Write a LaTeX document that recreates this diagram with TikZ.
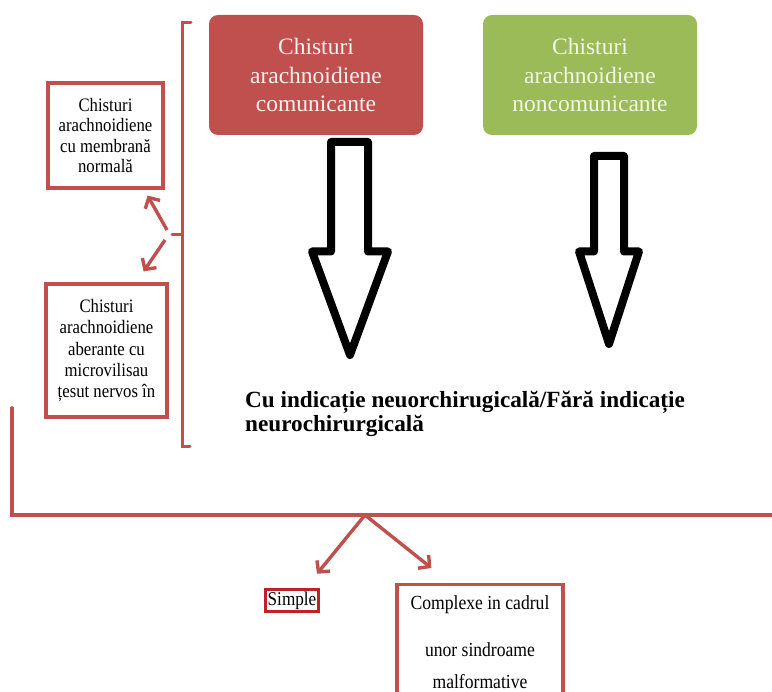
\documentclass[tikz,border=0pt]{standalone}
\usepackage{fontspec}
\setmainfont{Liberation Serif}
\newfontfamily\narrowserif[FakeStretch=0.88]{Liberation Serif}
\usetikzlibrary{arrows.meta}
\definecolor{cystred}{HTML}{C0504D}
\definecolor{cystgreen}{HTML}{9BBB59}
\definecolor{framered}{HTML}{C0504D}
\definecolor{simplered}{HTML}{C0202C}
\definecolor{palepink}{HTML}{FDF0EF}
\definecolor{palecream}{HTML}{F3F9E4}

\begin{document}
\begin{tikzpicture}[x=1pt,y=-1pt,
  category/.style={rounded corners=9pt, minimum width=214pt, minimum height=120pt,
    inner sep=0pt, align=center, font=\fontsize{23.5}{28.5}\selectfont},
  subtype/.style={draw=framered, line width=3.2pt, fill=white, inner sep=0pt,
    align=center, font=\narrowserif\fontsize{19}{20.5}\selectfont},
  link/.style={draw=framered, line width=3.4pt,
    -{Straight Barb[length=8pt,width=17pt]}},
  brace/.style={draw=framered, line width=3pt, line cap=round},
  blockarrow/.style={draw=black, line width=8pt, line join=round, fill=white}]
\useasboundingbox (0,0) rectangle (772,692);
\fill[white] (0,0) rectangle (772,692);

% the two main categories
\node[category, fill=cystred, text=palepink] (comm) at (316,75)
  {Chisturi\\arachnoidiene\\comunicante};
\node[category, fill=cystgreen, text=palecream] (noncomm) at (590,75)
  {Chisturi\\arachnoidiene\\noncomunicante};

% block arrows under the categories
\draw[blockarrow] (331,142) -- (368,142) -- (368,251.5) -- (388,251.5)
  -- (350,355) -- (312,251.5) -- (331,251.5) -- cycle;
\draw[blockarrow] (594,156) -- (624,156) -- (624,251.5) -- (639,251.5)
  -- (609,344) -- (579,251.5) -- (594,251.5) -- cycle;

% outcome text
\node[anchor=north west, inner sep=0pt, align=left,
  font=\bfseries\fontsize{23.2}{23.5}\selectfont] (verdict) at (245,391)
  {Cu indicație neuorchirugicală/Fără indicație\\neurochirurgicală};

% membrane subtypes on the left
\node[subtype, minimum width=115pt, minimum height=105pt] (normal) at (105.5,135.5)
  {Chisturi\\arachnoidiene\\cu membrană\\normală};
\node[subtype, minimum width=121pt, minimum height=133pt,
  font=\narrowserif\fontsize{19}{21.2}\selectfont]
  (aberant) at (106.5,350.5)
  {Chisturi\\arachnoidiene\\aberante cu\\microvilisau\\țesut nervos în};

% bracket grouping the upper part
\coordinate (btop) at (191,23);
\coordinate (bbot) at (190,447);
\coordinate (bmid) at (172,235);
\draw[brace] (btop) -- (182,23) -- (182,447) -- (bbot);
\draw[brace] (182,235) -- (bmid);
\draw[link] ([shift={(-5,-5)}]bmid) -- ([shift={(-17,6)}]normal.south east);
\draw[link] ([shift={(-7,5)}]bmid) -- ([shift={(-25,-11)}]aberant.north east);

% lower grouping line
\coordinate (fork) at (365,515);
\draw[brace, line width=3.6pt] (12,408) -- (12,515) -- (780,515);

% simple / complex split
\node[draw=simplered, line width=2.8pt, fill=white, inner xsep=2.5pt, inner ysep=2.5pt,
  font=\narrowserif\fontsize{19.5}{20}\selectfont] (simple) at (292,600.5) {Simple};
\node[draw=framered, line width=3.2pt, fill=white, anchor=north,
  minimum width=166pt, inner xsep=0pt, inner ysep=11pt, text depth=60pt,
  align=center, font=\narrowserif\fontsize{20}{22}\selectfont] (complex) at (480,583)
  {Complexe in cadrul\\[25pt]unor sindroame\\[10pt]malformative};
\draw[link] (fork) -- ([shift={(25,-14)}]simple.north);
\draw[link] (fork) -- ([shift={(36,-15)}]complex.north west);
\end{tikzpicture}
\end{document}
